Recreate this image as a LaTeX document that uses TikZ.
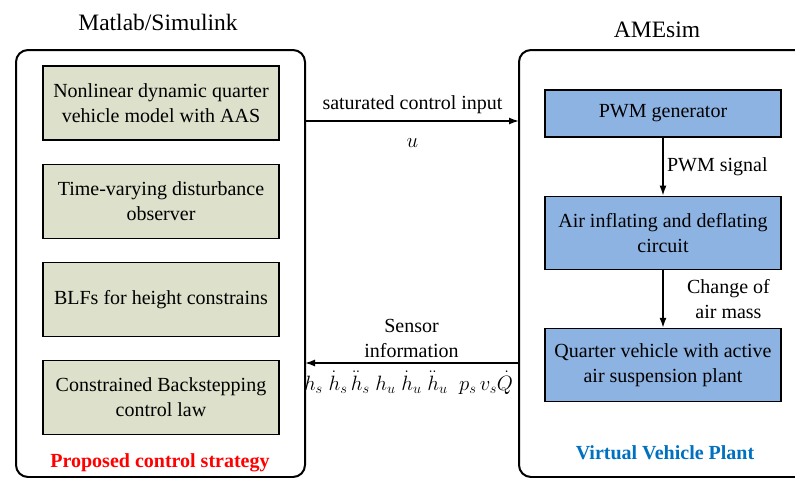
\documentclass[tikz,border=0pt]{standalone}
\usepackage{amsmath}
\usepackage{fontspec}
\setmainfont{Liberation Serif}
\usepackage{tikz}
\usetikzlibrary{arrows.meta}
\usetikzlibrary{positioning}
\definecolor{ctrlgreen}{HTML}{DDE0CA}
\definecolor{plantblue}{HTML}{8DB3E3}
\definecolor{vvpblue}{HTML}{0070C0}

\begin{document}
\begin{tikzpicture}[x=1pt,y=-1pt,->,>={Latex[length=10pt,width=7pt]},node distance = 23pt,line width=1.5pt]
\tikzstyle{txt}=[font=\fontsize{20}{25}\selectfont,align=center]
\tikzstyle{ctrl}=[txt,draw,-,line width=1.2pt,fill=ctrlgreen,minimum width=236pt,minimum height=74pt,inner sep=0pt]
\tikzstyle{plant}=[txt,draw,-,line width=1.2pt,fill=plantblue,minimum width=236pt,minimum height=73pt,inner sep=0pt]
\tikzstyle{frame}=[draw,-,line width=2pt,rounded corners=12pt,minimum width=289pt,minimum height=427pt]
\tikzstyle{ttl}=[font=\fontsize{23.5}{28}\selectfont]
\useasboundingbox (0,0) rectangle (795,477);
\clip (0,0) rectangle (795,477);
% the two simulation sides
\node[frame]	(ms)	at (160.5,263.5)	{};
\node[frame, minimum width=291pt]	(ame)	at (664.5,263.5)	{};
\node[ttl]	(mstitle)	at (158,22)	{Matlab/Simulink};
\node[ttl]	(ametitle)	at (657,30)	{AMEsim};
% controller blocks
\node[ctrl]	(nl)				at (161,103)		{Nonlinear dynamic quarter\\vehicle model with AAS};
\node[ctrl]	(tvdo)	[below = of nl]		{Time-varying disturbance\\observer};
\node[ctrl]	(blf)	[below = of tvdo]	{BLFs for height constrains};
\node[ctrl]	(cbs)	[below = of blf]	{Constrained Backstepping\\control law};
\node[txt, text=red, font=\fontsize{20}{25}\selectfont\bfseries]	(pcs)	at (160,463)	{Proposed control strategy};
% plant blocks
\node[plant, minimum height=47pt]	(pwm)	at (663,113.5)	{PWM generator};
\node[plant]	(air)	[below = 58pt of pwm]	{Air inflating and deflating\\circuit};
\node[plant]	(qv)	[below = 58pt of air]	{Quarter vehicle with active\\air suspension plant};
\node[txt, text=vvpblue, font=\fontsize{20}{25}\selectfont\bfseries]	(vvp)	at (665,453)	{Virtual Vehicle Plant};
\path(pwm)	edge	node[txt, right]		{PWM signal}		(air)
	 (air)	edge	node[txt, right=20pt]	{Change of\\air mass}	(qv);
% signals between the two sides
\coordinate (uend) at (519,121);
\coordinate (yend) at (305,363);
\draw (uend -| ms.east) -- node[txt, above=3pt] {saturated control input} node[txt, below=13pt] {$u$} (uend);
\draw (yend -| ame.west) -- node[txt, above=1pt] {Sensor\\information} node[txt, below=4pt, xshift=-3pt] {$h_s\;\dot h_s\,\ddot h_s\;h_u\;\dot h_u\;\ddot h_u\;\;p_s\,v_s\dot Q$} (yend);
\end{tikzpicture}
\end{document}
